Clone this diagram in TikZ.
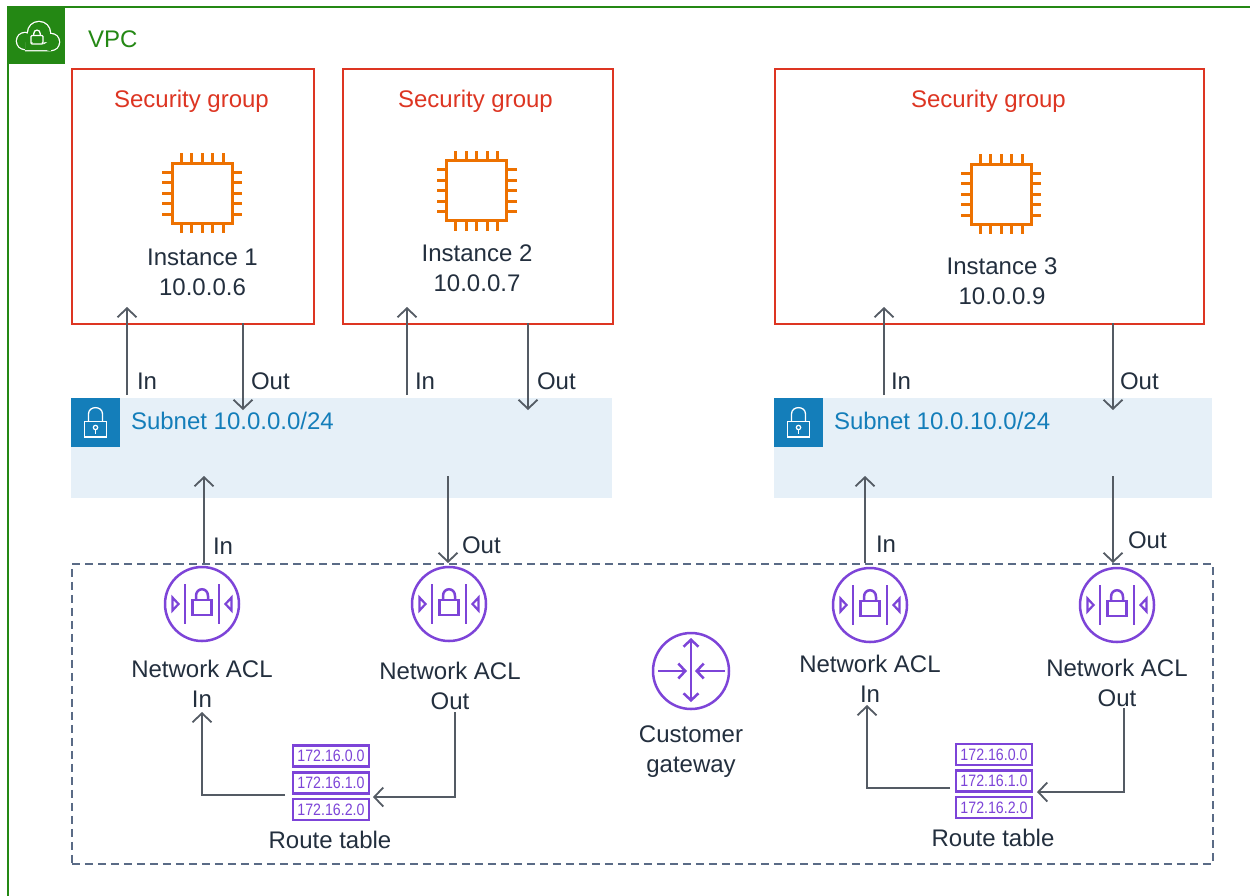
\documentclass[tikz,border=0pt]{standalone}
\usepackage{fontspec}
\setmainfont{Liberation Sans}
\newfontfamily\rtfont{Liberation Sans}[FakeStretch=0.86]
\usetikzlibrary{arrows.meta}
\definecolor{vpcgreen}{HTML}{248814}
\definecolor{sgred}{HTML}{DD3522}
\definecolor{chipor}{HTML}{ED7100}
\definecolor{subfill}{HTML}{E6F0F8}
\definecolor{subblue}{HTML}{147EBA}
\definecolor{txtdark}{HTML}{232F3E}
\definecolor{arrgray}{HTML}{545B64}
\definecolor{aclpur}{HTML}{7D44D8}
\definecolor{dashgray}{HTML}{5A6B86}
\tikzset{
  lab/.style={text=txtdark, inner sep=0pt, outer sep=0pt},
  sgbox/.style={draw=sgred, line width=2pt, inner sep=0pt, anchor=north west},
  subbox/.style={fill=subfill, draw=none, inner sep=0pt, anchor=north west},
  subicon/.style={fill=subblue, draw=none, inner sep=0pt, anchor=north west, minimum width=49pt, minimum height=49pt},
  dashbox/.style={draw=dashgray, line width=1.6pt, dash pattern=on 8pt off 5pt, inner sep=0pt, anchor=north west},
  arr/.style={draw=arrgray, line width=1.8pt, -{Straight Barb[length=9pt,width=19pt]}},
  rtbox/.style={draw=aclpur, line width=2.8pt, inner sep=0pt, minimum width=76pt, minimum height=21pt, text=aclpur, font=\rtfont\fontsize{16.5}{18}\selectfont},
  multi/.style={lab, align=center, anchor=north, font=\fontsize{24}{30}\selectfont},
  chip/.pic={
    \draw[chipor, line width=3pt] (-30,-30) rectangle (30,30);
    \foreach \o in {-21,-10.5,0,10.5,21}{
      \draw[chipor, line width=3pt] (\o,-30) -- (\o,-40);
      \draw[chipor, line width=3pt] (\o,30) -- (\o,40);
      \draw[chipor, line width=3pt] (-30,\o) -- (-40,\o);
      \draw[chipor, line width=3pt] (30,\o) -- (40,\o);
    }
  },
  aclicon/.pic={
    \draw[aclpur, line width=2.5pt] (0,0) circle[radius=37];
    \draw[aclpur, line width=2.5pt] (-17,-20) -- (-17,20);
    \draw[aclpur, line width=2.5pt] (17,-20) -- (17,20);
    \draw[aclpur, line width=2.2pt, line join=miter] (-29.5,-6.5) -- (-23.5,0) -- (-29.5,6.5) -- cycle;
    \draw[aclpur, line width=2.2pt, line join=miter] (29.5,-6.5) -- (23.5,0) -- (29.5,6.5) -- cycle;
    \draw[aclpur, line width=2.5pt] (-9.5,-4) rectangle (9.5,11);
    \draw[aclpur, line width=2.5pt] (-6,-4) -- (-6,-8) .. controls (-6,-17) and (6,-17) .. (6,-8) -- (6,-4);
  },
  gwicon/.pic={
    \draw[aclpur, line width=2.5pt] (0,0) circle[radius=38];
    \draw[aclpur, line width=2.5pt, {Straight Barb[length=7pt,width=15pt]}-{Straight Barb[length=7pt,width=15pt]}] (0,-33) -- (0,31);
    \draw[aclpur, line width=2.5pt, -{Straight Barb[length=7pt,width=15pt]}] (-33,0) -- (-4,0);
    \draw[aclpur, line width=2.5pt, -{Straight Barb[length=7pt,width=15pt]}] (34,0) -- (4,0);
  }
}
\begin{document}
\begin{tikzpicture}[x=1pt,y=-1pt, font=\fontsize{24}{30}\selectfont]
\useasboundingbox (0,0) rectangle (1250,895);
\fill[white] (0,0) rectangle (1250,895);

% VPC
\draw[vpcgreen, line width=2pt] (1255,7) -- (8,7) -- (8,900);
\node[fill=vpcgreen, inner sep=0pt, minimum width=58pt, minimum height=58pt, anchor=north west] (vpcicon) at (7,6) {};
\fill[white] (25,41) circle[radius=9.3] (39,33) circle[radius=12.3] (51,42) circle[radius=9.3] (25,40.7) rectangle (51,51.3);
\fill[vpcgreen] (25,41) circle[radius=8] (39,33) circle[radius=11] (51,42) circle[radius=8] (25,42) rectangle (51,50);
\draw[white, line width=1.3pt, rounded corners=1pt] (31,35.5) rectangle (43,44);
\draw[white, line width=1.3pt] (33.8,35.5) -- (33.8,33.5) .. controls (33.8,29) and (40.2,29) .. (40.2,33.5) -- (40.2,35.5);
\node[lab, text=vpcgreen, anchor=base west] (vpclab) at (88,47) {VPC};

% Security groups
\node[sgbox, minimum width=242pt, minimum height=255pt] (sg1) at (71,68) {};
\node[sgbox, minimum width=270pt, minimum height=255pt] (sg2) at (342,68) {};
\node[sgbox, minimum width=429pt, minimum height=255pt] (sg3) at (774,68) {};
\node[lab, text=sgred, anchor=base] (sg1t) at (191.5,107) {Security group};
\node[lab, text=sgred, anchor=base] (sg2t) at (475.5,107) {Security group};
\node[lab, text=sgred, anchor=base] (sg3t) at (988.5,107) {Security group};

\pic at (202,193) {chip};
\pic at (476.5,190.5) {chip};
\pic at (1001,194) {chip};
\node[multi] (inst1) at (202.5,248.5) {Instance 1\\10.0.0.6};
\node[multi] (inst2) at (477,244.5) {Instance 2\\10.0.0.7};
\node[multi] (inst3) at (1002,257.5) {Instance 3\\10.0.0.9};

% Subnets
\node[subbox, minimum width=541pt, minimum height=100pt] (sub1) at (71,398) {};
\node[subbox, minimum width=438pt, minimum height=100pt] (sub2) at (774,398) {};
\node[subicon] (sub1i) at (71,398) {};
\node[subicon] (sub2i) at (774,398) {};
\foreach \dx in {0,703}{
  \begin{scope}[xshift=\dx]
  \draw[white, line width=1.3pt] (84.5,421.5) rectangle (106.5,437);
  \draw[white, line width=1.3pt] (88.5,421.5) -- (88.5,414) .. controls (88.5,405.5) and (102.5,405.5) .. (102.5,414) -- (102.5,421.5);
  \draw[white, line width=1.2pt] (95.5,427.5) circle[radius=2.2];
  \draw[white, line width=1.2pt] (95.5,429.7) -- (95.5,433.5);
  \end{scope}
}
\node[lab, text=subblue, anchor=base west] (sub1t) at (131,429) {Subnet 10.0.0.0/24};
\node[lab, text=subblue, anchor=base west] (sub2t) at (834,429) {Subnet 10.0.10.0/24};

% SG <-> subnet arrows
\coordinate (a1s) at (127,395); \coordinate (a1e) at (127,307);
\coordinate (a2s) at (243,323); \coordinate (a2e) at (243,410);
\coordinate (a3s) at (407,395); \coordinate (a3e) at (407,307);
\coordinate (a4s) at (528,323); \coordinate (a4e) at (528,410);
\coordinate (a5s) at (884,395); \coordinate (a5e) at (884,307);
\coordinate (a6s) at (1113,323); \coordinate (a6e) at (1113,410);
\draw[arr] (a1s) -- (a1e);
\draw[arr] (a2s) -- (a2e);
\draw[arr] (a3s) -- (a3e);
\draw[arr] (a4s) -- (a4e);
\draw[arr] (a5s) -- (a5e);
\draw[arr] (a6s) -- (a6e);
\node[lab, anchor=base west] (l1) at (137,389) {In};
\node[lab, anchor=base west] (l2) at (251,389) {Out};
\node[lab, anchor=base west] (l3) at (415,389) {In};
\node[lab, anchor=base west] (l4) at (537,389) {Out};
\node[lab, anchor=base west] (l5) at (891,389) {In};
\node[lab, anchor=base west] (l6) at (1120,389) {Out};

% Network ACL area
\node[dashbox, minimum width=1141pt, minimum height=300pt] (nacl) at (71,563) {};
\pic at (202,604) {aclicon};
\pic at (449,604) {aclicon};
\pic at (870,605) {aclicon};
\pic at (1117,605) {aclicon};
\node[multi] (acl1) at (202,660.5) {Network ACL\\In};
\node[multi] (acl2) at (450,662.5) {Network ACL\\Out};
\node[multi] (acl3) at (870,655) {Network ACL\\In};
\node[multi] (acl4) at (1117,659) {Network ACL\\Out};

% subnet <-> ACL arrows
\coordinate (b1s) at (204,563); \coordinate (b1e) at (204,476);
\coordinate (b2s) at (448,476); \coordinate (b2e) at (448,563);
\coordinate (b3s) at (865,563); \coordinate (b3e) at (865,476);
\coordinate (b4s) at (1113,476); \coordinate (b4e) at (1113,563);
\draw[arr] (b1s) -- (b1e);
\draw[arr] (b2s) -- (b2e);
\draw[arr] (b3s) -- (b3e);
\draw[arr] (b4s) -- (b4e);
\node[lab, anchor=base west] (m1) at (213,554) {In};
\node[lab, anchor=base west] (m2) at (462,553) {Out};
\node[lab, anchor=base west] (m3) at (876,552) {In};
\node[lab, anchor=base west] (m4) at (1128,548) {Out};

% Customer gateway
\pic at (691,671) {gwicon};
\node[multi] (gw) at (691,726) {Customer\\gateway};

% Route tables
\node[rtbox] (rt1a) at (331,756) {172.16.0.0};
\node[rtbox] (rt1b) at (331,783) {172.16.1.0};
\node[rtbox] (rt1c) at (331,809.5) {172.16.2.0};
\node[lab, anchor=base] (rt1t) at (330,848) {Route table};
\node[rtbox] (rt2a) at (994,754.5) {172.16.0.0};
\node[rtbox] (rt2b) at (994,781) {172.16.1.0};
\node[rtbox] (rt2c) at (994,807.5) {172.16.2.0};
\node[lab, anchor=base] (rt2t) at (993,846) {Route table};

\coordinate (r1s) at (455,712); \coordinate (r1e) at (373,797);
\coordinate (q1s) at (285,795); \coordinate (q1e) at (202,712);
\coordinate (q2s) at (950,788); \coordinate (q2e) at (867,705);
\coordinate (r2s) at (1124,708); \coordinate (r2e) at (1037,792);
\draw[arr] (r1s) |- (r1e);
\draw[arr] (q1s) -| (q1e);
\draw[arr] (q2s) -| (q2e);
\draw[arr] (r2s) |- (r2e);
\end{tikzpicture}
\end{document}
